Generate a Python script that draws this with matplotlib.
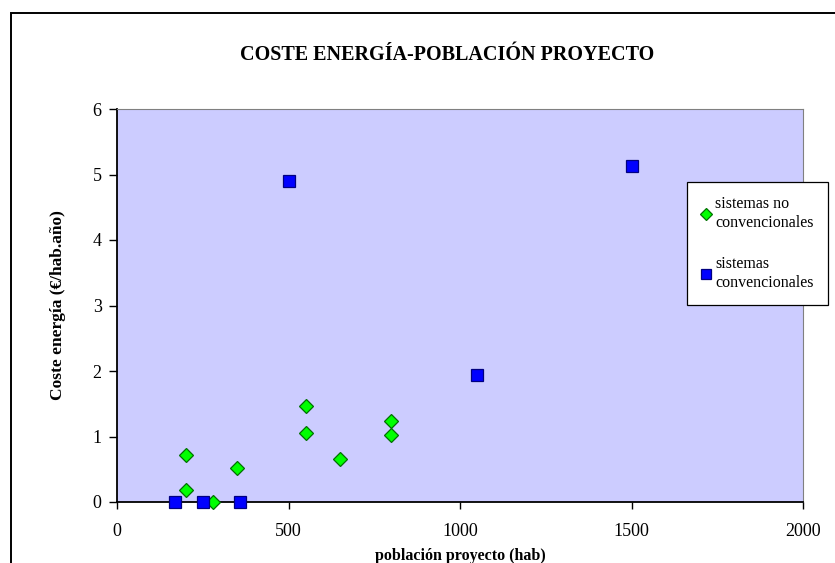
import matplotlib
matplotlib.use("Agg")
import matplotlib.pyplot as plt
from matplotlib.patches import Rectangle

# datos
pob_no_conv = [200, 200, 280, 350, 550, 550, 650, 800, 800]
coste_no_conv = [0.72, 0.18, 0.0, 0.52, 1.47, 1.06, 0.66, 1.23, 1.03]
pob_conv = [170, 250, 360, 500, 1050, 1500]
coste_conv = [0.0, 0.0, 0.0, 4.9, 1.94, 5.13]

x_ticks = [0, 500, 1000, 1500, 2000]
y_ticks = [0, 1, 2, 3, 4, 5, 6]

plt.rcParams['font.family'] = ['Liberation Serif', 'DejaVu Serif']

W, H = 835, 563
fig = plt.figure(figsize=(W / 100, H / 100), dpi=100)
ax = fig.add_axes([117 / W, 1 - 502 / H, (803 - 117) / W, (502 - 109) / H])
ax.set_facecolor('#CCCCFF')

# marco exterior del gráfico (se sale por la derecha y por abajo)
fig.patches.append(Rectangle((11 / W, -0.2), 2, 1.2 - 12.7 / H, transform=fig.transFigure,
                             fill=False, edgecolor='black', linewidth=1.4))

ax.plot(pob_no_conv, coste_no_conv, 'D', color='#00FF00', markeredgecolor='#007000',
        markeredgewidth=0.9, markersize=7.2, label='sistemas no\nconvencionales',
        clip_on=False, zorder=3)
ax.plot(pob_conv, coste_conv, 's', color='#0000FF', markeredgecolor='#000080',
        markeredgewidth=0.9, markersize=8.3, label='sistemas\nconvencionales',
        clip_on=False, zorder=3)

ax.set_xlim(0, 2000)
ax.set_ylim(0, 6)
ax.set_xticks(x_ticks)
ax.set_yticks(y_ticks)
ax.tick_params(axis='x', direction='out', length=5, width=1, pad=10, labelsize=13)
ax.tick_params(axis='y', direction='out', length=6, width=1, pad=5, labelsize=13)

ax.spines['left'].set_color('black')
ax.spines['bottom'].set_color('black')
ax.spines['left'].set_linewidth(1.3)
ax.spines['bottom'].set_linewidth(1.3)
ax.spines['top'].set_color('#808080')
ax.spines['right'].set_color('#808080')

ax.set_xlabel('población proyecto (hab)', fontsize=11.5, fontweight='bold')
ax.xaxis.set_label_coords(0.5, -0.117)
ax.set_ylabel('Coste energía (€/hab.año)', fontsize=12.5, fontweight='bold')
ax.yaxis.set_label_coords(-0.075, 0.5)

fig.text(447 / W, 1 - 55 / H, 'COSTE ENERGÍA-POBLACIÓN PROYECTO', fontsize=14.5,
         fontweight='bold', ha='center', va='center')

leg = ax.legend(loc='upper left', bbox_to_anchor=(687 / W, 1 - 182 / H),
                bbox_transform=fig.transFigure, borderaxespad=0, fontsize=11.5,
                fancybox=False, framealpha=1, edgecolor='black', labelspacing=1.6,
                handlelength=0.6, handletextpad=0.25, borderpad=0.9, markerscale=0.85)
leg.get_frame().set_linewidth(0.9)

fig.savefig('out.png', dpi=100)
